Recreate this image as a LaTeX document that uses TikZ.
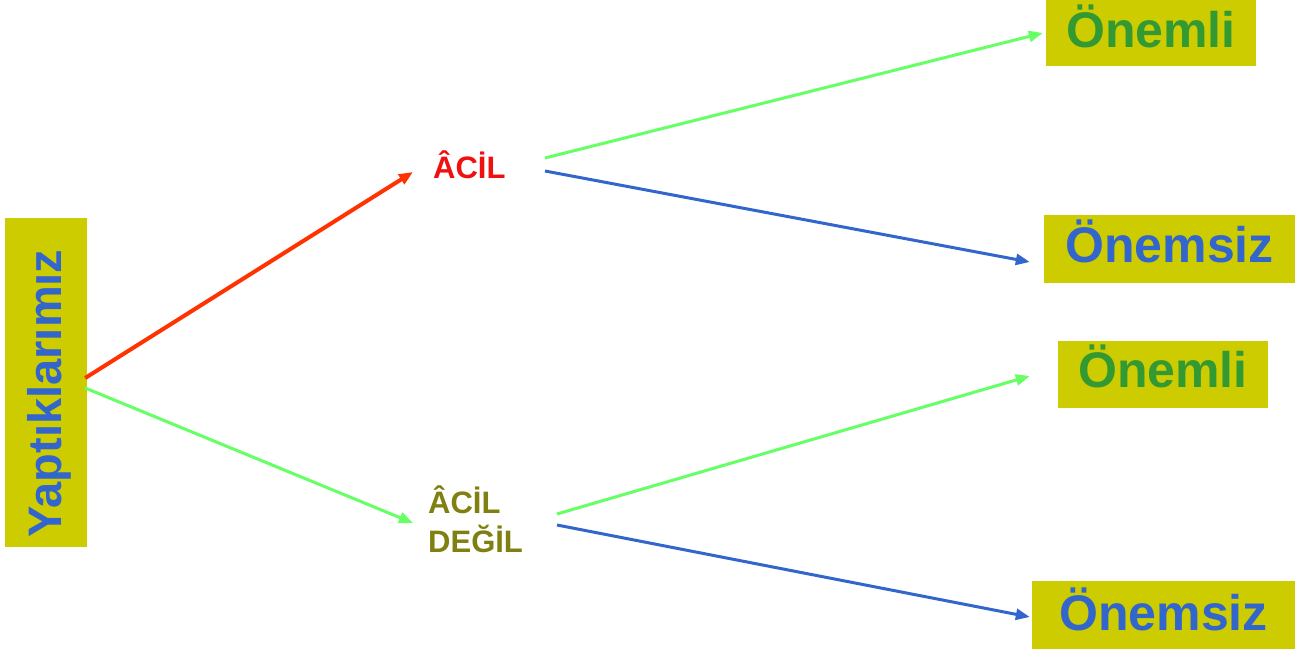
\documentclass[tikz,border=0pt]{standalone}
\usepackage{fontspec}
\setmainfont{Liberation Sans}
\usetikzlibrary{arrows.meta,calc}
\definecolor{boxyellow}{RGB}{204,204,0}
\definecolor{txtblue}{RGB}{51,102,204}
\definecolor{txtgreen}{RGB}{51,153,51}
\definecolor{arrred}{RGB}{255,51,0}
\definecolor{arrgreen}{RGB}{102,255,102}
\definecolor{acilred}{RGB}{240,16,16}
\definecolor{olive}{RGB}{128,128,16}
\tikzset{
  box/.style={fill=boxyellow, inner sep=0pt, font=\bfseries\fontsize{50}{60}\selectfont},
  conn/.style={line width=3pt, -{Triangle[length=14pt,width=11pt]}},
  redconn/.style={conn, line width=4pt, arrred},
  greenconn/.style={conn, arrgreen},
  blueconn/.style={conn, txtblue},
  lbl/.style={inner sep=0pt, font=\bfseries\fontsize{31}{39}\selectfont}
}
\begin{document}
\begin{tikzpicture}[x=1pt,y=-1pt]
\useasboundingbox[fill=white] (0,0) rectangle (1302,652);
% left box
\node[box, rotate=90, minimum width=329pt, minimum height=82pt, text height=56pt, text depth=26pt,
      font=\bfseries\fontsize{47}{56}\selectfont, text=txtblue] (yap) at (46,382.5)
      {\makebox[329pt][l]{\hspace{10pt}Yaptıklarımız}};
% middle labels
\node[lbl, anchor=base west, text=acilred] (acil) at (433,179) {ÂCİL};
\node[lbl, anchor=base west, text=olive, align=left] (acild) at (428,552) {ÂCİL\\DEĞİL};
% right boxes
\node[box, minimum width=210pt, minimum height=66pt, text height=48pt, text depth=18pt, text=txtgreen] (o1) at (1151,33) {Önemli};
\node[box, minimum width=251pt, minimum height=68pt, text height=48pt, text depth=20pt, text=txtblue] (o2) at (1169.5,249) {Önemsiz};
\node[box, minimum width=210pt, minimum height=67pt, text height=47pt, text depth=20pt, text=txtgreen] (o3) at (1163,374.5) {Önemli};
\node[box, minimum width=263pt, minimum height=68pt, text height=49pt, text depth=19pt, text=txtblue] (o4) at (1163.5,615) {Önemsiz};
% connectors
\draw[redconn] ($(yap.south)+(-2,-4.5)$) -- ($(acil.base west)+(-20,-7)$);
\draw[greenconn] ($(yap.south)+(-2,5.5)$) -- ($(acild.base west)+(-15,-29)$);
\draw[greenconn] ($(acil.base west)+(112,-21)$) -- ($(o1.west)+(-3,0)$);
\draw[blueconn] ($(acil.base west)+(112,-8)$) -- ($(o2.west)+(-14,13)$);
\draw[greenconn] ($(acild.base west)+(129,-38)$) -- ($(o3.west)+(-28,1.5)$);
\draw[blueconn] ($(acild.base west)+(129,-27)$) -- ($(o4.west)+(-2,2)$);
\end{tikzpicture}
\end{document}
